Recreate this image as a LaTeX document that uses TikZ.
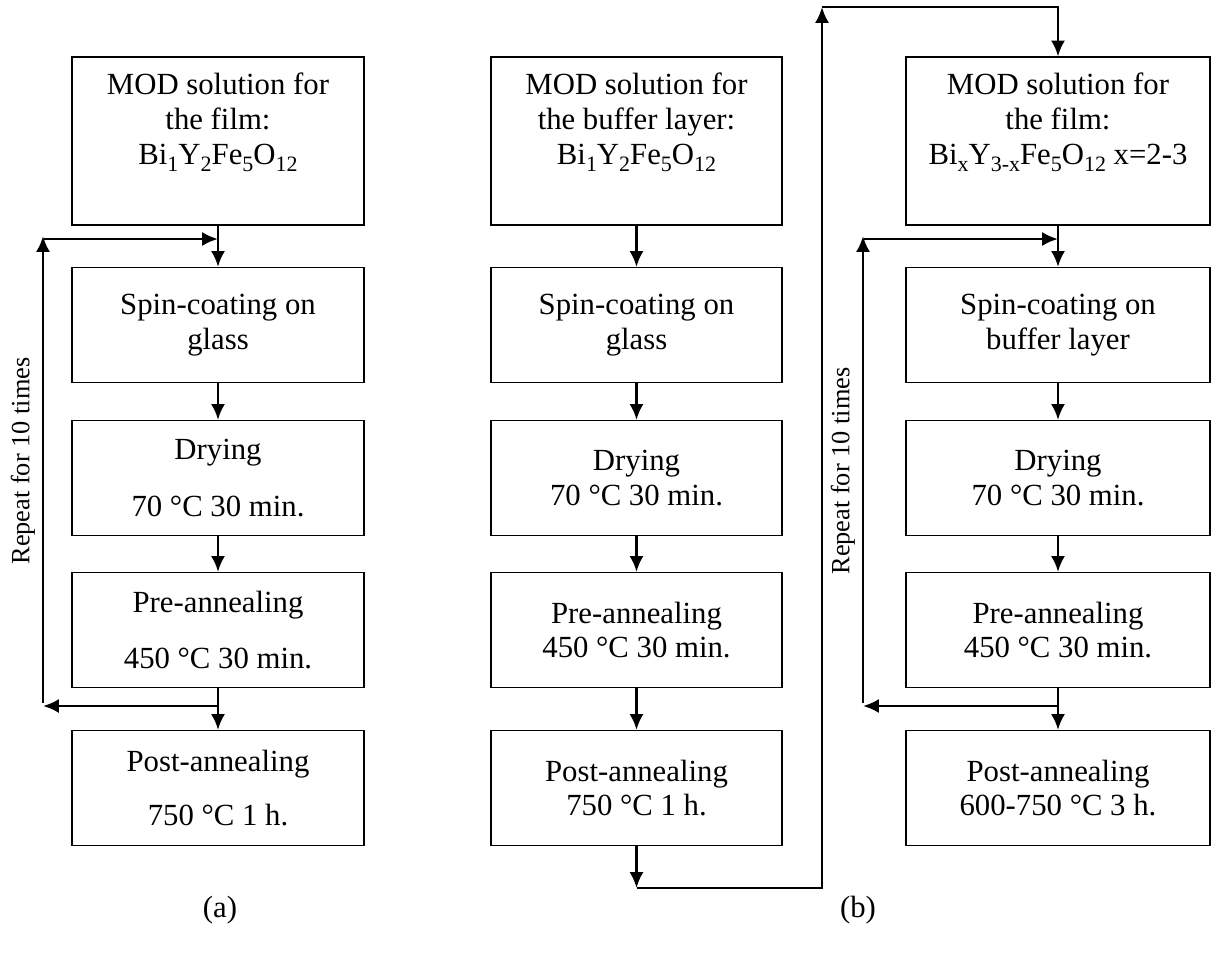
\documentclass[tikz,border=0pt]{standalone}
\usepackage{fontspec}
\setmainfont{Liberation Serif}
\usetikzlibrary{arrows.meta}
\tikzset{
  proc/.style={draw, line width=0.7pt, align=center, minimum height=2.3cm, inner sep=2pt},
  flow/.style={line width=1.5pt, -{Latex[length=9pt,width=8pt]}},
}
\newcommand{\lowsub}[1]{\raisebox{-0.5ex}{\fontsize{12.5}{12.5}\selectfont #1}}
\newcommand{\bifilm}{Bi\lowsub{1}Y\lowsub{2}Fe\lowsub{5}O\lowsub{12}}
\newcommand{\bixfilm}{Bi\lowsub{x}Y\lowsub{3-x}Fe\lowsub{5}O\lowsub{12} x=2-3}
\begin{document}
\begin{tikzpicture}[x=0.02cm, y=-0.02cm, font=\fontsize{17.5}{19.8}\selectfont]
        \useasboundingbox (0,0) rectangle (1214,954);

        \node[proc, minimum width=5.84cm, minimum height=3.36cm] (a1) at (218,141) {MOD solution for\\the film:\\\bifilm\\\strut};
        \node[proc, minimum width=5.84cm] (a2) at (218,325) {Spin-coating on\\glass};
        \node[proc, minimum width=5.84cm] (a3) at (218,478) {Drying\\[13pt]70 °C 30 min.};
        \node[proc, minimum width=5.84cm] (a4) at (218,630) {Pre-annealing\\[12pt]450 °C 30 min.};
        \node[proc, minimum width=5.84cm] (a5) at (218,788) {Post-annealing\\[11pt]750 °C 1 h.};

        \node[proc, minimum width=5.82cm, minimum height=3.36cm] (b1) at (636.5,141) {MOD solution for\\the buffer layer:\\\bifilm\\\strut};
        \node[proc, minimum width=5.82cm] (b2) at (636.5,325) {Spin-coating on\\glass};
        \node[proc, minimum width=5.82cm] (b3) at (636.5,478) {Drying\\70 °C 30 min.};
        \node[proc, minimum width=5.82cm] (b4) at (636.5,630) {Pre-annealing\\450 °C 30 min.};
        \node[proc, minimum width=5.82cm] (b5) at (636.5,788) {Post-annealing\\750 °C 1 h.};

        \node[proc, minimum width=6.08cm, minimum height=3.36cm] (c1) at (1058,141) {MOD solution for\\the film:\\\bixfilm\\\strut};
        \node[proc, minimum width=6.08cm] (c2) at (1058,325) {Spin-coating on\\buffer layer};
        \node[proc, minimum width=6.08cm] (c3) at (1058,478) {Drying\\70 °C 30 min.};
        \node[proc, minimum width=6.08cm] (c4) at (1058,630) {Pre-annealing\\450 °C 30 min.};
        \node[proc, minimum width=6.08cm] (c5) at (1058,788) {Post-annealing\\600-750 °C 3 h.};

        \foreach \c in {a,b,c}
            \foreach \i/\j in {1/2,2/3,3/4,4/5}
                \draw[flow] (\c\i.south) -- (\c\j.north);

        \coordinate (a-lt) at (43,236);
        \coordinate (a-lb) at (43,703);
        \coordinate (a-in) at (44,239);
        \coordinate (a-out) at (43,706);
        \draw[flow] (a-lb) -- (a-lt);
        \draw[flow] (a-in) -- (a1.south |- a-in);
        \draw[flow] (a4.south |- a-out) -- (a-out);

        \coordinate (c-lt) at (863,236);
        \coordinate (c-lb) at (863,703);
        \coordinate (c-in) at (864,239);
        \coordinate (c-out) at (863,706);
        \draw[flow] (c-lb) -- (c-lt);
        \draw[flow] (c-in) -- (c1.south |- c-in);
        \draw[flow] (c4.south |- c-out) -- (c-out);

        \coordinate (b-end) at (636.5,888);
        \coordinate (b-turn) at (822,888);
        \coordinate (b-top) at (822,7);
        \coordinate (c-top) at (1058,7);
        \draw[flow] (b5.south) -- (b-end);
        \draw[flow] (b-end) -- (b-turn) -- (b-top);
        \draw[flow] (b-top) -- (c-top) -- (c1.north);

        \node[rotate=90, font=\fontsize{15}{18}\selectfont] (a-rep) at (23,461) {Repeat for 10 times};
        \node[rotate=90, font=\fontsize{15}{18}\selectfont] (c-rep) at (843,471) {Repeat for 10 times};

        \node (a-cap) at (220,910) {(a)};
        \node (b-cap) at (858,910) {(b)};
    \end{tikzpicture}
\end{document}
